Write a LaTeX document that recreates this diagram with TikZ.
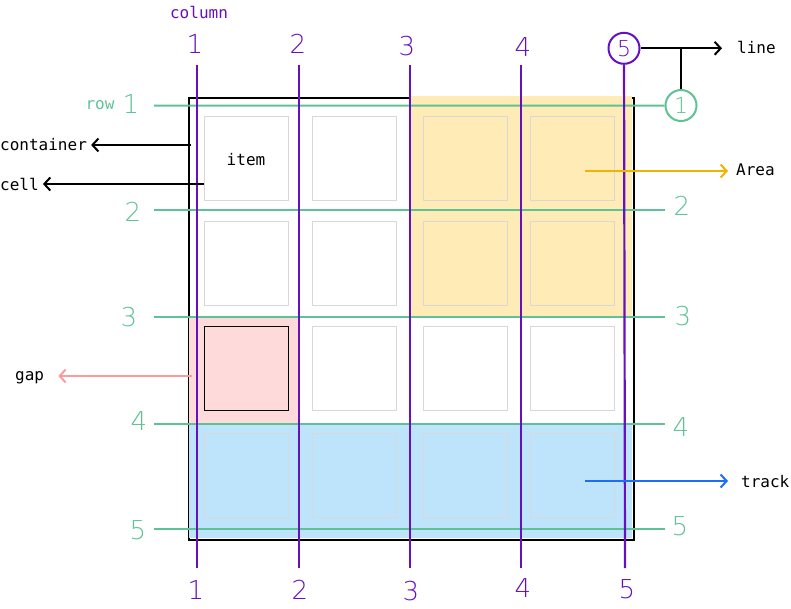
\documentclass[tikz,border=0pt]{standalone}
\usepackage{fontspec}
\setmonofont{DejaVu Sans Mono}
\newfontfamily\handfont{DejaVu Sans ExtraLight}
\usetikzlibrary{arrows.meta, positioning}
\definecolor{gridpurple}{HTML}{6610C0}
\definecolor{gridgreen}{HTML}{5DC394}
\definecolor{areayellow}{HTML}{FEEBB5}
\definecolor{gappink}{HTML}{FFDADA}
\definecolor{trackblue}{HTML}{BEE4FC}
\definecolor{arrowyellow}{HTML}{F0B400}
\definecolor{arrowpink}{HTML}{F89C9C}
\definecolor{arrowblue}{HTML}{1C6EF2}
\definecolor{cellgray}{HTML}{D8D8D8}

\begin{document}
\begin{tikzpicture}[x=1pt, y=-1pt,
    lbl/.style={font=\ttfamily\fontsize{16}{16}\selectfont, inner sep=0pt},
    hand/.style={font=\handfont\fontsize{26}{26}\selectfont, inner sep=0pt},
    colline/.style={draw=gridpurple, line width=2.2pt},
    rowline/.style={draw=gridgreen, line width=2pt},
    cellbox/.style={draw=cellgray, line width=1pt, minimum size=84pt, inner sep=0pt},
    ring/.style={circle, draw, line width=2pt, minimum size=31pt, inner sep=0pt},
    pointer/.style={->, line width=2pt},
    >={Straight Barb[length=6pt, width=13pt]},
]
\useasboundingbox (0,0) rectangle (791,608);
% --- container and the three areas -----------------------------------------
\node[draw, line width=2pt, minimum width=444.7pt, minimum height=441.7pt,
      inner sep=0pt, anchor=north west] (box) at (188,97) {};
\fill[areayellow] (410,95.5) rectangle (631.7,316.7);
\fill[gappink] (189,316.7) rectangle (298.7,424);
\fill[trackblue] (189,424) rectangle (631.7,537.7);
% --- grid items -------------------------------------------------------------
\foreach \cx/\cc in {246/1,354/2,465/3,572/4}
  \foreach \cy/\rr in {158/1,263/2,368/3,475/4}
    \node[cellbox] (cell\rr\cc) at (\cx,\cy) {};
\node[cellbox, draw=black] (gapcell) at (cell31) {};
\node[lbl] (item) at (246,160) {item};
% --- row lines --------------------------------------------------------------
\node[lbl, text=gridgreen] (rowword) at (100,105) {row};
\node[hand, text=gridgreen] (rowL1) at (131,104) {1};
\node[ring, draw=gridgreen, text=gridgreen, font=\handfont\fontsize{22}{22}\selectfont] (ring1) at (681,105.5) {1};
\coordinate (r1-left) at (154,105.7);
\draw[rowline] (r1-left) -- (ring1);
\foreach \y/\n/\lx/\ly/\rx/\ry in {210/2/133/212/682/206, 316.7/3/129/317/683/316,
                                    424/4/139/421/681/427, 528.7/5/138/530/680/526}{
  \coordinate (r\n-left) at (154,\y);
  \coordinate (r\n-right) at (665,\y);
  \draw[rowline] (r\n-left) -- (r\n-right);
  \node[hand, text=gridgreen] (rowL\n) at (\lx,\ly) {\n};
  \node[hand, text=gridgreen] (rowR\n) at (\rx,\ry) {\n};
}
% --- column lines -----------------------------------------------------------
\node[lbl, text=gridpurple] (colword) at (199,12) {column};
\foreach \x/\n/\tx/\ty/\bx/\by in {197/1/195/44/196/590, 298.7/2/298/44/300/590,
                                    410/3/407/46/411/591, 520.7/4/523/47/523/588}{
  \coordinate (c\n-top) at (\x,65);
  \coordinate (c\n-bot) at (\x,568);
  \draw[colline] (c\n-top) -- (c\n-bot);
  \node[hand, text=gridpurple] (colT\n) at (\tx,\ty) {\n};
  \node[hand, text=gridpurple] (colB\n) at (\bx,\by) {\n};
}
\node[ring, draw=gridpurple, text=gridpurple, font=\handfont\fontsize{22}{22}\selectfont] (ring5) at (624,48.3) {5};
\coordinate (c5-bot) at (625,568);
\draw[colline] (ring5) -- (c5-bot);
\node[hand, text=gridpurple] (colB5) at (627,589) {5};
% --- labels with pointers ---------------------------------------------------
\node[lbl, anchor=west] (lineword) at (737,47) {line};
\draw[pointer] (ring5) -- (ring5 -| lineword.west) [shorten >=15pt];
\draw[line width=2pt] (ring1) -- (ring1 |- ring5);
\coordinate (container-src) at (190.5,145);
\node[lbl, anchor=west] (containerword) at (0,145) {container};
\draw[pointer] (container-src) -- (container-src -| containerword.east) [shorten >=4pt];
\coordinate (cell-src) at (204,184);
\node[lbl, anchor=west] (cellword) at (0,184) {cell};
\draw[pointer] (cell-src) -- (cell-src -| cellword.east) [shorten >=4pt];
\coordinate (gap-src) at (192,376);
\node[lbl, anchor=west] (gapword) at (15,378) {gap};
\draw[pointer, arrowpink] (gap-src) -- (gap-src -| gapword.east) [shorten >=14pt];
\coordinate (area-src) at (585,171);
\node[lbl, anchor=west] (areaword) at (736,170) {Area};
\draw[pointer, arrowyellow] (area-src) -- (area-src -| areaword.west) [shorten >=8pt];
\coordinate (track-src) at (585,481);
\node[lbl, anchor=west] (trackword) at (741,482) {track};
\draw[pointer, arrowblue] (track-src) -- (track-src -| trackword.west) [shorten >=13pt];
\end{tikzpicture}
\end{document}
